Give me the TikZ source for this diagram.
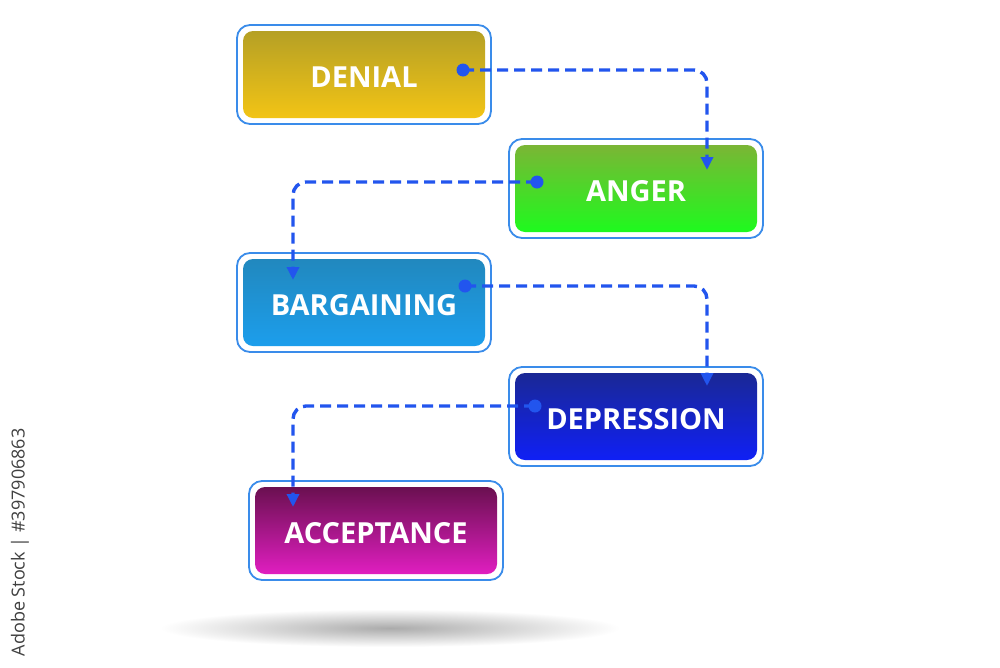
\documentclass[tikz,border=0pt]{standalone}
\usepackage{fontspec}
\setmainfont{Open Sans}
\usetikzlibrary{arrows.meta}
\definecolor{frameblue}{HTML}{3A8CEA}
\definecolor{connblue}{HTML}{2255EE}
\definecolor{denT}{HTML}{B5A025}\definecolor{denB}{HTML}{F2C415}
\definecolor{angT}{HTML}{7BB535}\definecolor{angB}{HTML}{1EFA1E}
\definecolor{barT}{HTML}{2188BE}\definecolor{barB}{HTML}{1C9EEC}
\definecolor{depT}{HTML}{1A2895}\definecolor{depB}{HTML}{1020F5}
\definecolor{accT}{HTML}{6A1050}\definecolor{accB}{HTML}{E01EC0}
\tikzset{
  frame/.style={draw=frameblue, line width=1.8pt, fill=white, rounded corners=13pt,
    minimum width=254pt, minimum height=99pt, inner sep=0pt},
  stage/.style={rounded corners=10pt, minimum width=242pt, minimum height=87pt,
    inner sep=0pt, text=white, text height=26pt, text depth=0pt,
    font=\fontsize{29}{31}\selectfont\bfseries},
  conn/.style={draw=connblue, line width=3.4pt, dash pattern=on 11pt off 6pt, rounded corners=13pt,
    -{Triangle[length=13pt,width=12pt]}},
  dot/.style={circle, fill=connblue, minimum size=13pt, inner sep=0pt}
}
\begin{document}
\begin{tikzpicture}[x=1pt,y=-1pt]
\useasboundingbox[fill=white] (0,0) rectangle (1000,667);
% shadow
\shade[inner color=black!33, outer color=white] (390,628) ellipse (230 and 19);
% frames
\node[frame] (denF) at (364,74.5) {};
\node[frame] (angF) at (636,188.5) {};
\node[frame] (barF) at (364,302.5) {};
\node[frame] (depF) at (636,416.5) {};
\node[frame] (accF) at (376,530.5) {};
% stages
\node[stage, top color=denT, bottom color=denB] (den) at (denF) {DENIAL};
\node[stage, top color=angT, bottom color=angB] (ang) at (angF) {ANGER};
\node[stage, top color=barT, bottom color=barB] (bar) at (barF) {BARGAINING};
\node[stage, top color=depT, bottom color=depB] (dep) at (depF) {DEPRESSION};
\node[stage, top color=accT, bottom color=accB] (acc) at (accF) {ACCEPTANCE};
% connector ends
\coordinate (d1) at (463,70);  \coordinate (t1) at (707,170);
\coordinate (d2) at (537,182); \coordinate (t2) at (293,280);
\coordinate (d3) at (465,286); \coordinate (t3) at (707,386);
\coordinate (d4) at (535,406); \coordinate (t4) at (293,507);
\draw[conn] (d1) -| (t1);
\draw[conn] (d2) -| (t2);
\draw[conn] (d3) -| (t3);
\draw[conn] (d4) -| (t4);
\node[dot] (p1) at (d1) {};
\node[dot] (p2) at (d2) {};
\node[dot] (p3) at (d3) {};
\node[dot] (p4) at (d4) {};
% side label
\node[rotate=90, anchor=east, text=black!75, font=\fontsize{18}{19}\selectfont] (id) at (20,425) {Adobe Stock | \#397906863};
\end{tikzpicture}
\end{document}
